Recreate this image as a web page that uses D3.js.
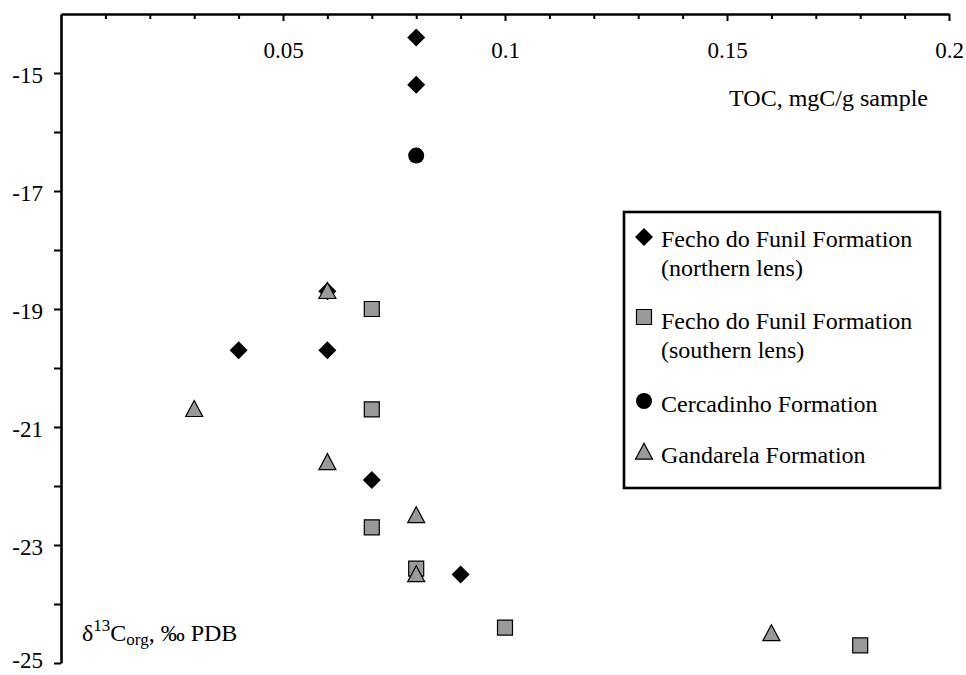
<!DOCTYPE html>
<html>
<head>
<meta charset="utf-8">
<script src="https://cdn.jsdelivr.net/npm/d3@7"></script>
<style>
  body { margin: 0; background: #fff; }
  text { font-family: "Liberation Serif", "Times New Roman", serif; fill: #000; }
</style>
</head>
<body>
<div id="chart"></div>
<script>
// TOC (mgC/g sample) and d13C org (per mil PDB) for each formation
const northernToc = [0.08, 0.08, 0.06, 0.04, 0.06, 0.07, 0.09];
const northernD13 = [-14.4, -15.2, -18.7, -19.7, -19.7, -21.9, -23.5];

const southernToc = [0.07, 0.07, 0.07, 0.08, 0.10, 0.18];
const southernD13 = [-19.0, -20.7, -22.7, -23.4, -24.4, -24.7];

const cercadinhoToc = [0.08];
const cercadinhoD13 = [-16.4];

const gandarelaToc = [0.06, 0.03, 0.06, 0.08, 0.08, 0.16];
const gandarelaD13 = [-18.7, -20.7, -21.6, -22.5, -23.5, -24.5];

const xMajorTicks = [0.05, 0.1, 0.15, 0.2];
const yTicks = [-25, -24, -23, -22, -21, -20, -19, -18, -17, -16, -15];
const yLabelled = [-25, -23, -21, -19, -17, -15];

const legendLabels = [
  ["Fecho do Funil Formation", "(northern lens)"],
  ["Fecho do Funil Formation", "(southern lens)"],
  ["Cercadinho Formation"],
  ["Gandarela Formation"]
];

const W = 966, H = 675;
const plotLeft = 61, plotTop = 14, plotRight = 949, plotBottom = 663;
const GRAY = "#999999";

const svg = d3.select("#chart").append("svg")
    .attr("width", W)
    .attr("height", H);

const x = d3.scaleLinear().domain([0, 0.2]).range([plotLeft, plotRight]);
const y = d3.scaleLinear().domain([-25, -14]).range([plotBottom, plotTop]);

// x axis on top, ticks pointing down into the plot
const minorX = d3.range(1, 21).map(i => i / 100).filter(v => !xMajorTicks.some(m => Math.abs(m - v) < 1e-9));
svg.append("g")
    .attr("transform", `translate(0,${plotTop})`)
    .call(d3.axisBottom(x).tickValues(minorX).tickSize(5).tickSizeOuter(0).tickFormat(""))
    .call(g => g.select(".domain").remove())
    .call(g => g.selectAll("line").attr("stroke", "#000").attr("stroke-width", 2));

svg.append("g")
    .attr("transform", `translate(0,${plotTop})`)
    .call(d3.axisBottom(x).tickValues(xMajorTicks).tickSize(7).tickSizeOuter(0).tickPadding(21)
        .tickFormat(d => d3.format("")(d)))
    .call(g => g.select(".domain").attr("stroke", "#000").attr("stroke-width", 2.6))
    .call(g => g.selectAll("line").attr("stroke", "#000").attr("stroke-width", 2))
    .call(g => g.selectAll("text").attr("font-size", 23).attr("font-family", "Liberation Serif"));

// y axis on the left
svg.append("g")
    .attr("transform", `translate(${plotLeft},0)`)
    .call(d3.axisLeft(y).tickValues(yTicks).tickSize(7).tickSizeOuter(0).tickPadding(11)
        .tickFormat(d => yLabelled.includes(d) ? d3.format("")(d).replace("−", "-") : ""))
    .call(g => g.select(".domain").attr("stroke", "#000").attr("stroke-width", 2.6))
    .call(g => g.selectAll("line").attr("stroke", "#000").attr("stroke-width", 2))
    .call(g => g.selectAll("text").attr("font-size", 23).attr("font-family", "Liberation Serif")
        .attr("dy", d => d === -25 ? "0.2em" : "0.4em"));

// axis titles
svg.append("text")
    .attr("x", 928).attr("y", 106)
    .attr("text-anchor", "end")
    .attr("font-size", 24)
    .text("TOC, mgC/g sample");

const yt = svg.append("text")
    .attr("x", 82).attr("y", 641)
    .attr("font-size", 24);
yt.append("tspan").text("δ");
yt.append("tspan").attr("font-size", 17).attr("dy", -10).text("13");
yt.append("tspan").attr("dy", 10).text("C");
yt.append("tspan").attr("font-size", 17).attr("dy", 4).text("org");
yt.append("tspan").attr("dy", -4).text(", ‰ PDB");

// marker shapes
const diamond = s => `M0,${-s}L${s},0L0,${s}L${-s},0Z`;
const square = s => `M${-s},${-s}H${s}V${s}H${-s}Z`;
const triangle = (w, h) => `M0,${-h * 0.55}L${w / 2},${h * 0.45}L${-w / 2},${h * 0.45}Z`;

function drawSeries(tocs, d13s, draw) {
  const pts = tocs.map((t, i) => ({ t: t, d: d13s[i] }));
  const g = svg.append("g");
  pts.forEach(p => draw(g, x(p.t), y(p.d)));
}

const drawDiamond = (g, cx, cy) => g.append("path")
    .attr("d", diamond(9)).attr("transform", `translate(${cx},${cy})`).attr("fill", "#000");
const drawSquare = (g, cx, cy) => g.append("path")
    .attr("d", square(7.5)).attr("transform", `translate(${cx},${cy})`)
    .attr("fill", GRAY).attr("stroke", "#000").attr("stroke-width", 1.2);
const drawCircle = (g, cx, cy) => g.append("circle")
    .attr("cx", cx).attr("cy", cy).attr("r", 8).attr("fill", "#000");
const drawTriangle = (g, cx, cy) => g.append("path")
    .attr("d", triangle(17, 16)).attr("transform", `translate(${cx},${cy})`)
    .attr("fill", GRAY).attr("stroke", "#000").attr("stroke-width", 1.2);

drawSeries(northernToc, northernD13, drawDiamond);
drawSeries(southernToc, southernD13, drawSquare);
drawSeries(cercadinhoToc, cercadinhoD13, drawCircle);
drawSeries(gandarelaToc, gandarelaD13, drawTriangle);

// legend
const lg = svg.append("g");
lg.append("rect")
    .attr("x", 624).attr("y", 212).attr("width", 316).attr("height", 276)
    .attr("fill", "#fff").attr("stroke", "#000").attr("stroke-width", 2.6);

const markerY = [237, 317, 401, 452];
const lineY = [[247, 276], [329, 358], [412], [463]];
const drawers = [drawDiamond, drawSquare, drawCircle, drawTriangle];
legendLabels.forEach((lines, i) => {
  drawers[i](lg, 644, markerY[i]);
  lines.forEach((s, j) => {
    lg.append("text")
        .attr("x", 661).attr("y", lineY[i][j])
        .attr("font-size", 24)
        .text(s);
  });
});
</script>
</body>
</html>
